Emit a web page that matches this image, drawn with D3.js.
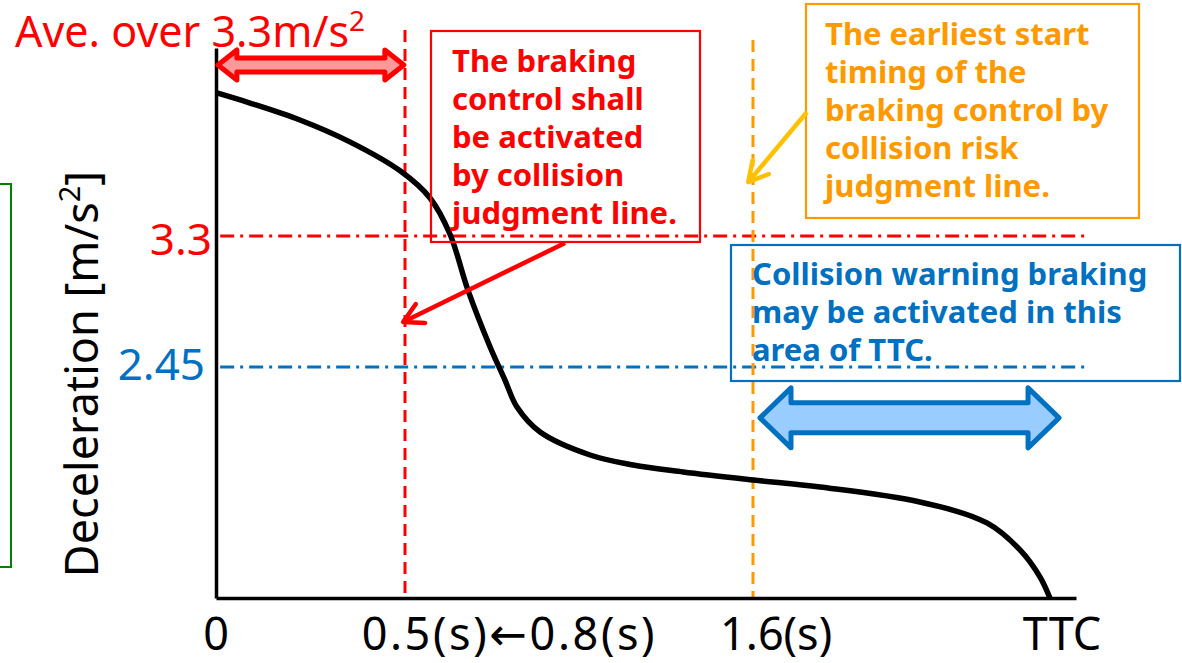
<!DOCTYPE html>
<html>
<head>
<meta charset="utf-8">
<script src="https://cdn.jsdelivr.net/npm/d3@7"></script>
<style>
  body { margin: 0; background: #fff; }
  svg { display: block; font-family: "Noto Sans", "DejaVu Sans", sans-serif; }
  .note { font-weight: bold; font-size: 31px; }
</style>
</head>
<body>
<svg id="chart" width="1182" height="663"></svg>
<script>
// deceleration curve (TTC in s, deceleration in m/s2)
var ttc = [0, 0.09, 0.222, 0.354, 0.487, 0.579, 0.642, 0.699, 0.769, 0.816, 0.854, 0.927, 1.085, 1.221, 1.379, 1.6, 1.849, 2.22, 2.469, 2.592, 2.666, 2.703];
var decel = [4.23, 4.163, 4.053, 3.911, 3.723, 3.547, 3.313, 2.949, 2.58, 2.365, 2.19, 2.028, 1.879, 1.814, 1.769, 1.717, 1.671, 1.574, 1.438, 1.263, 1.088, 0.951];

// horizontal reference levels
var refValues = [3.3, 2.45];
var refLabels = ["3.3", "2.45"];
var refColors = ["#ff0000", "#0070c0"];

// vertical timing lines
var timeValues = [0.5, 1.6];
var timeColors = ["#ff0000", "#ff9900"];

// x axis labels and where they sit (s)
var xLabels = ["0", "0.5(s)\u21900.8(s)", "1.6(s)", "TTC"];
var xLabelAt = [0, 0.826, 1.686, 2.748];

// arrow spans (s)
var redSpan = [0.005, 0.497];
var blueSpan = [1.626, 2.737];

var svg = d3.select("#chart");

// the drawing is schematic: time axis is piecewise
var x = d3.scaleLinear()
  .domain([0, 0.5, 1.6, 2.8])
  .range([216, 405, 753, 1076]);

var y = d3.scaleLinear()
  .domain([0.951, 4.52])
  .range([598, 48]);

// green box partly off the left edge
svg.append("rect")
  .attr("x", -100).attr("y", 184)
  .attr("width", 111).attr("height", 383)
  .attr("fill", "none").attr("stroke", "#008000").attr("stroke-width", 2);

// reference dash-dot lines
svg.selectAll(".ref")
  .data(refValues)
  .enter()
  .append("line")
  .attr("class", "ref")
  .attr("x1", x(0.011)).attr("x2", x(2.852))
  .attr("y1", function(d) { return y(d); })
  .attr("y2", function(d) { return y(d); })
  .attr("stroke", function(d, i) { return refColors[i]; })
  .attr("stroke-width", 3.2)
  .attr("stroke-dasharray", "14,6,3,6");

// dashed timing lines
svg.selectAll(".time")
  .data(timeValues)
  .enter()
  .append("line")
  .attr("class", "time")
  .attr("x1", function(d) { return x(d); })
  .attr("x2", function(d) { return x(d); })
  .attr("y1", function(d, i) { return i == 0 ? y(4.637) : y(4.572); })
  .attr("y2", y(0.951))
  .attr("stroke", function(d, i) { return timeColors[i]; })
  .attr("stroke-width", 3)
  .attr("stroke-dasharray", "12,7");

// axes
var xAxis = svg.append("g")
  .attr("transform", "translate(0," + y(0.951) + ")")
  .call(d3.axisBottom(x).tickValues([]).tickSizeOuter(0));
var yAxis = svg.append("g")
  .attr("transform", "translate(" + x(0) + ",0)")
  .call(d3.axisLeft(y).tickValues([]).tickSizeOuter(0));
svg.selectAll(".domain").attr("stroke", "#000").attr("stroke-width", 3.5);

// curve
var pts = ttc.map(function(t, i) { return [t, decel[i]]; });
svg.append("path")
  .datum(pts)
  .attr("fill", "none")
  .attr("stroke", "#000")
  .attr("stroke-width", 5.5)
  .attr("d", d3.line()
    .x(function(d) { return x(d[0]); })
    .y(function(d) { return y(d[1]); })
    .curve(d3.curveCatmullRom.alpha(0.5)));

// y tick labels
svg.selectAll(".ylab")
  .data(refValues)
  .enter()
  .append("text")
  .attr("class", "ylab")
  .attr("x", function(d, i) { return i == 0 ? 212 : 205; })
  .attr("y", function(d, i) { return y(d) + (i == 0 ? 19 : 13); })
  .attr("text-anchor", "end")
  .attr("font-size", 44)
  .attr("fill", function(d, i) { return refColors[i]; })
  .text(function(d, i) { return refLabels[i]; });

// x labels
svg.selectAll(".xlab")
  .data(xLabels)
  .enter()
  .append("text")
  .attr("class", "xlab")
  .attr("x", function(d, i) { return x(xLabelAt[i]); })
  .attr("y", 650)
  .attr("text-anchor", "middle")
  .attr("font-size", 45)
  .attr("fill", "#000")
  .attr("textLength", function(d, i) { return i == 1 ? 293 : null; })
  .attr("lengthAdjust", "spacing")
  .text(function(d) { return d; });

// y title
var yt = svg.append("text")
  .attr("transform", "translate(98,374) rotate(-90)")
  .attr("text-anchor", "middle")
  .attr("font-size", 45)
  .attr("fill", "#000");
yt.append("tspan").text("Deceleration [m/s");
yt.append("tspan").attr("font-size", 29).attr("dy", -18).text("2");
yt.append("tspan").attr("dy", 18).text("]");

// title
var tt = svg.append("text")
  .attr("x", 15).attr("y", 47)
  .attr("font-size", 43)
  .attr("fill", "#ff0000");
tt.append("tspan").text("Ave. over 3.3m/s");
tt.append("tspan").attr("font-size", 28).attr("dy", -16).text("2");

// double arrow path
function doubleArrow(x1, x2, cy, sh, hh, hl) {
  return "M" + x1 + "," + cy +
    "L" + (x1 + hl) + "," + (cy - hh) +
    "L" + (x1 + hl) + "," + (cy - sh) +
    "L" + (x2 - hl) + "," + (cy - sh) +
    "L" + (x2 - hl) + "," + (cy - hh) +
    "L" + x2 + "," + cy +
    "L" + (x2 - hl) + "," + (cy + hh) +
    "L" + (x2 - hl) + "," + (cy + sh) +
    "L" + (x1 + hl) + "," + (cy + sh) +
    "L" + (x1 + hl) + "," + (cy + hh) + "Z";
}

svg.append("path")
  .attr("d", doubleArrow(x(redSpan[0]), x(redSpan[1]), y(4.41), 7, 15, 19))
  .attr("fill", "#ff9999")
  .attr("stroke", "#ff0000")
  .attr("stroke-width", 5)
  .attr("stroke-linejoin", "round");

svg.append("path")
  .attr("d", doubleArrow(x(blueSpan[0]), x(blueSpan[1]), y(2.12), 15, 30, 31))
  .attr("fill", "#99ccff")
  .attr("stroke", "#0070c0")
  .attr("stroke-width", 5)
  .attr("stroke-linejoin", "round");

// pointer arrows
function pointer(x1, y1, x2, y2, color) {
  var a = Math.atan2(y2 - y1, x2 - x1), L = 22, w = 0.5;
  svg.append("line")
    .attr("x1", x1).attr("y1", y1).attr("x2", x2).attr("y2", y2)
    .attr("stroke", color).attr("stroke-width", 4.5);
  svg.append("path")
    .attr("d", "M" + (x2 - L * Math.cos(a - w)) + "," + (y2 - L * Math.sin(a - w)) +
      "L" + x2 + "," + y2 +
      "L" + (x2 - L * Math.cos(a + w)) + "," + (y2 - L * Math.sin(a + w)))
    .attr("fill", "none").attr("stroke", color).attr("stroke-width", 4.5)
    .attr("stroke-linecap", "round").attr("stroke-linejoin", "round");
}

// note boxes
function note(bx, by, bw, bh, color, tx, ty, lines) {
  svg.append("rect")
    .attr("x", bx).attr("y", by).attr("width", bw).attr("height", bh)
    .attr("fill", "none")
    .attr("stroke", color).attr("stroke-width", 2.2);
  svg.append("g").selectAll("text")
    .data(lines)
    .enter()
    .append("text")
    .attr("class", "note")
    .attr("x", tx)
    .attr("y", function(d, i) { return ty + i * 38; })
    .attr("fill", color)
    .text(function(d) { return d; });
}

note(431, 31, 269, 211, "#ff0000", 452, 72,
  ["The braking", "control shall", "be activated", "by collision", "judgment line."]);
pointer(565, 243, x(0.495), y(2.742), "#ff0000");

note(806, 4, 333, 214, "#ff9900", 825, 45,
  ["The earliest start", "timing of the", "braking control by", "collision risk", "judgment line."]);
pointer(807, 112, x(1.585), y(3.65), "#ffc000");

note(731, 245, 449, 136, "#0070c0", 752, 285,
  ["Collision warning braking", "may be activated in this", "area of TTC."]);
</script>
</body>
</html>
